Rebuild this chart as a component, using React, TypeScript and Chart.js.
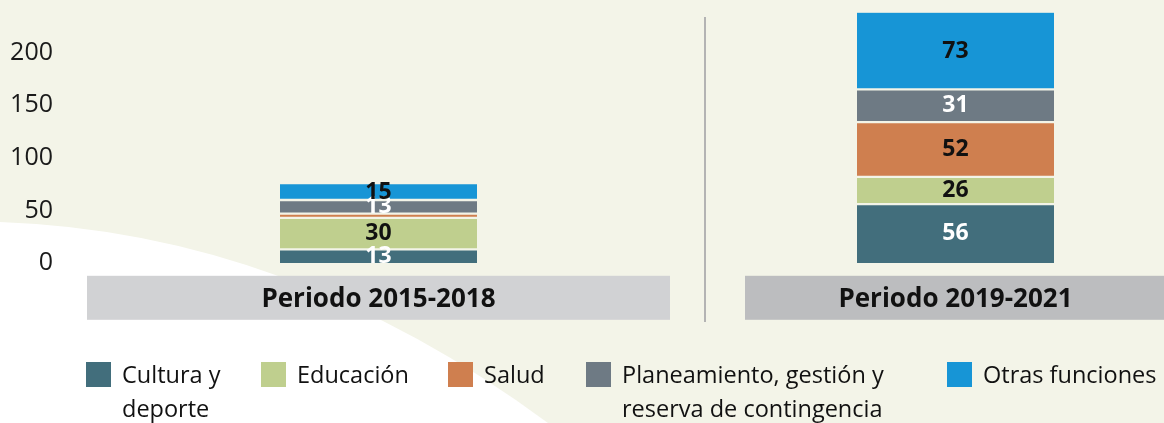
import React, { useEffect, useRef } from "react";
import { Chart, registerables } from "chart.js";

Chart.register(...registerables);

// ---- data ----
const periods = ["Periodo 2015-2018", "Periodo 2019-2021"];
const seriesNames = [
  "Cultura y deporte",
  "Educación",
  "Salud",
  "Planeamiento, gestión y reserva de contingencia",
  "Otras funciones",
];
const culturaDeporte = [13, 56];
const educacion = [30, 26];
const salud = [4, 52];
const planeamiento = [13, 31];
const otrasFunciones = [15, 73];
const yTicks = [0, 50, 100, 150, 200];
const yMax = 250;

const seriesValues = [culturaDeporte, educacion, salud, planeamiento, otrasFunciones];

// ---- styles ----
const FONT = "'Open Sans', 'Noto Sans', sans-serif";
const seriesColors = ["#426e7c", "#bfcf8e", "#cf7f4f", "#6e7a84", "#1795d6"];
const labelColors = ["#ffffff", "#111111", "#111111", "#ffffff", "#111111"];
const legendSquareLeft = [86, 261, 448, 586, 947];
const legendTextWidth = [135, 135, 90, 320, 215];

const CANVAS_W = 1244;
const CANVAS_H = 423;

const backgroundPlugin = {
  id: "bgDecor",
  beforeDraw(chart: any) {
    const { ctx } = chart;
    const xs = chart.scales.x;
    ctx.save();
    ctx.fillStyle = "#f3f4e8";
    ctx.fillRect(0, 0, chart.width, chart.height);
    // white curved area bottom-left
    ctx.fillStyle = "#ffffff";
    ctx.beginPath();
    ctx.moveTo(0, 222);
    ctx.quadraticCurveTo(290, 232, 548, chart.height);
    ctx.lineTo(0, chart.height);
    ctx.closePath();
    ctx.fill();
    // category boxes
    const c0 = xs.getPixelForValue(0);
    const c1 = xs.getPixelForValue(1);
    const boxTop = xs.top + 12.7;
    const boxH = 44;
    ctx.fillStyle = "#d1d2d4";
    ctx.fillRect(c0 - 291.5, boxTop, 583, boxH);
    ctx.fillStyle = "#bcbdbf";
    ctx.fillRect(c1 - 210.5, boxTop, chart.width - (c1 - 210.5), boxH);
    // separator line
    const sx = c0 + 326.5;
    ctx.strokeStyle = "#b3b3b3";
    ctx.lineWidth = 2;
    ctx.beginPath();
    ctx.moveTo(sx, 17);
    ctx.lineTo(sx, 322);
    ctx.stroke();
    ctx.restore();
  },
};

const valueLabelPlugin = {
  id: "valueLabels",
  afterDatasetsDraw(chart: any) {
    const { ctx } = chart;
    ctx.save();
    ctx.font = `bold 23px ${FONT}`;
    ctx.textAlign = "center";
    ctx.textBaseline = "middle";
    chart.data.datasets.forEach((ds: any, di: number) => {
      const meta = chart.getDatasetMeta(di);
      meta.data.forEach((bar: any, i: number) => {
        const v = seriesValues[di][i];
        if (v < 8) return;
        const p = bar.getProps(["x", "y", "base"], true);
        ctx.fillStyle = labelColors[di];
        ctx.fillText(String(v), p.x, (p.y + p.base) / 2);
      });
    });
    ctx.restore();
  },
};

export default function App() {
  const canvasRef = useRef<HTMLCanvasElement | null>(null);

  useEffect(() => {
    const canvas = canvasRef.current;
    if (!canvas) return;
    const last = seriesValues.length - 1;
    const chart = new Chart(canvas, {
      type: "bar",
      data: {
        labels: periods,
        datasets: seriesValues.map((vals, di) => ({
          label: seriesNames[di],
          data: vals,
          backgroundColor: seriesColors[di],
          borderColor: "rgba(0,0,0,0)",
          borderWidth: {
            top: di === last ? 0 : 1.5,
            bottom: di === 0 ? 0 : 1.5,
            left: 0,
            right: 0,
          },
          borderSkipped: false,
          barThickness: 197,
        })),
      },
      options: {
        responsive: false,
        animation: false,
        devicePixelRatio: 1,
        layout: { padding: { top: 0, right: 0, bottom: 86.7, left: 0 } },
        plugins: {
          legend: { display: false },
          tooltip: { enabled: false },
        },
        scales: {
          x: {
            stacked: true,
            offset: true,
            grid: { display: false, drawTicks: false },
            border: { display: false },
            ticks: {
              autoSkip: false,
              maxRotation: 0,
              color: "#111111",
              padding: 21,
              font: { family: FONT, size: 26, weight: "bold" },
            },
          },
          y: {
            stacked: true,
            min: 0,
            max: yMax,
            grid: { display: false, drawTicks: false },
            border: { display: false },
            afterFit: (s: any) => {
              s.width = 90;
              s.paddingTop = 0;
              s.paddingBottom = 0;
            },
            afterBuildTicks: (s: any) => {
              s.ticks = yTicks.map((v) => ({ value: v }));
            },
            ticks: {
              color: "#1a1a1a",
              padding: 37,
              font: { family: FONT, size: 25 },
            },
          },
        },
      } as any,
      plugins: [backgroundPlugin, valueLabelPlugin],
    });
    return () => chart.destroy();
  }, []);

  return (
    <div
      style={{
        position: "absolute",
        left: 0,
        top: 0,
        width: 1164,
        height: CANVAS_H,
        overflow: "hidden",
      }}
    >
      <canvas
        ref={canvasRef}
        width={CANVAS_W}
        height={CANVAS_H}
        style={{ position: "absolute", left: 0, top: 0, width: CANVAS_W, height: CANVAS_H }}
      />
      {seriesNames.map((name, i) => (
        <div
          key={name}
          style={{
            position: "absolute",
            left: legendSquareLeft[i],
            top: 357,
            display: "flex",
            alignItems: "flex-start",
            fontFamily: FONT,
            fontSize: 23.5,
            lineHeight: "34px",
            color: "#111111",
          }}
        >
          <span
            style={{
              display: "inline-block",
              width: 25,
              height: 25,
              marginTop: 5,
              marginRight: 11,
              background: seriesColors[i],
              flex: "none",
            }}
          />
          <span style={{ display: "inline-block", width: legendTextWidth[i] }}>{name}</span>
        </div>
      ))}
    </div>
  );
}
